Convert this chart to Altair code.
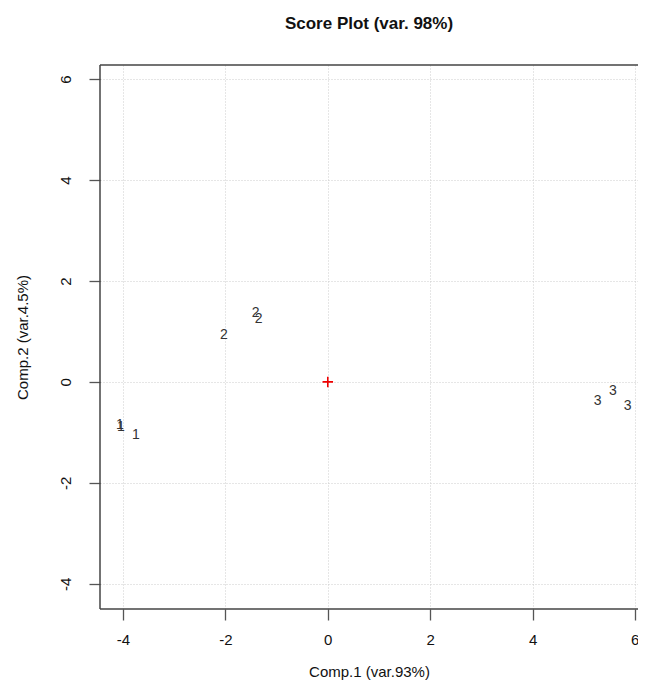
import altair as alt
import pandas as pd

labels = ["1", "1", "1", "2", "2", "2", "3", "3", "3"]
comp1 = [-4.06, -4.04, -3.75, -2.03, -1.41, -1.35, 5.27, 5.57, 5.86]
comp2 = [-0.85, -0.90, -1.05, 0.93, 1.37, 1.25, -0.38, -0.18, -0.48]
center_x = [0.0]
center_y = [0.0]
ticks = [-4, -2, 0, 2, 4, 6]

df = pd.DataFrame({"x": comp1, "y": comp2, "lab": labels})
dc = pd.DataFrame({"x": center_x, "y": center_y})

W, H = 538, 544
xs = alt.Scale(domain=[-4.45, 6.06], nice=False, zero=False)
ys = alt.Scale(domain=[-4.5, 6.28], nice=False, zero=False)

axis_common = dict(
    values=ticks, grid=True, gridColor="#cccccc", gridDash=[1, 2], gridWidth=1,
    domain=False, tickColor="#555", tickSize=11, tickWidth=1.3,
    labelFont="Liberation Sans", labelFontSize=15, labelColor="#111",
    titleFont="Liberation Sans", titleFontSize=15, titleFontWeight="normal",
    titleColor="#111", labelExpr="'' + datum.value",
)

xaxis = alt.Axis(title="Comp.1 (var.93%)", labelPadding=12, titlePadding=17,
                 labelFlush=6, labelFlushOffset=4, **axis_common)
yaxis = alt.Axis(title="Comp.2 (var.4.5%)", labelAngle=270, labelAlign="center",
                 labelBaseline="bottom", labelPadding=16, titlePadding=28, **axis_common)

pts = alt.Chart(df).mark_text(font="Liberation Sans", fontSize=14, color="#333").encode(
    x=alt.X("x:Q", scale=xs, axis=xaxis),
    y=alt.Y("y:Q", scale=ys, axis=yaxis),
    text="lab:N",
)

cen = alt.Chart(dc).mark_point(shape="M-1,0H1M0,-1V1", color="#ee0000", size=110,
                               strokeWidth=1.6, opacity=1).encode(
    x=alt.X("x:Q", scale=xs),
    y=alt.Y("y:Q", scale=ys),
)

top_border = alt.Chart(dc).mark_rule(color="#444", strokeWidth=1.5).encode(
    x=alt.value(0), x2=alt.value(W + 10), y=alt.value(0)
)
left_border = alt.Chart(dc).mark_rule(color="#444", strokeWidth=1.5).encode(
    x=alt.value(0), y=alt.value(0), y2=alt.value(H)
)
bottom_border = alt.Chart(dc).mark_rule(color="#444", strokeWidth=1.5).encode(
    x=alt.value(0), x2=alt.value(W + 10), y=alt.value(H)
)

chart = alt.layer(pts, cen, top_border, left_border, bottom_border).properties(
    width=W, height=H,
    title=alt.Title("Score Plot (var. 98%)", font="Liberation Sans", fontSize=17,
                    fontWeight="bold", color="#111", offset=31, anchor="middle"),
    autosize=alt.AutoSizeParams(type="none"),
    padding={"left": 92, "top": 57, "right": 0, "bottom": 78},
).configure_view(stroke=None)

chart.save("out.html", embed_options={"renderer": "svg", "actions": False})
